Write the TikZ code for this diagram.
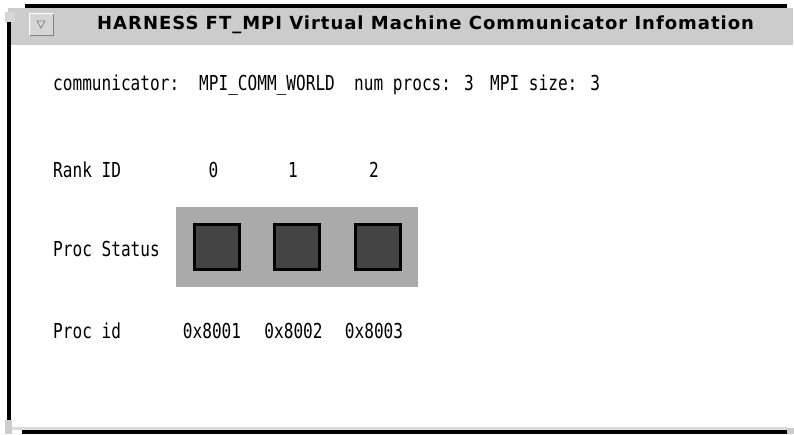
\documentclass[tikz,border=0pt]{standalone}
\usepackage{fontspec}
\usepackage{graphicx}
\newfontfamily\titlefont{DejaVu Sans}[LetterSpace=5.5]
\newfontfamily\monofont{DejaVu Sans Mono}
\newcommand{\tallt}[1]{\scalebox{1}[1.28]{#1}}
\definecolor{barGray}{RGB}{204,204,204}
\definecolor{panelGray}{RGB}{170,170,170}
\definecolor{boxFill}{RGB}{68,68,68}
\definecolor{btnFace}{RGB}{214,214,214}
\definecolor{btnDark}{RGB}{130,130,130}
\tikzset{
  lbl/.style={anchor=base west, inner sep=0pt, font=\monofont\fontsize{16.1}{18}\selectfont},
  num/.style={anchor=base, inner sep=0pt, font=\monofont\fontsize{16.1}{18}\selectfont},
  ttl/.style={anchor=base west, inner sep=0pt, font=\titlefont\bfseries\fontsize{18}{20}\selectfont},
  sq/.style={draw=black, line width=3pt, fill=boxFill, minimum size=45pt, inner sep=0pt},
  panel/.style={fill=panelGray, minimum width=242pt, minimum height=80pt, inner sep=0pt}
}
\begin{document}
\begin{tikzpicture}[x=1pt,y=-1pt]
\useasboundingbox (0,0) rectangle (794,434);
\fill[white] (0,0) rectangle (794,434);
% window frame
\fill[barGray] (8,8) rectangle (793,45);
\fill[barGray!80] (5,12) rectangle (15,22);
\fill[black] (25,4) rectangle (787,8);
\fill[barGray] (787,8) rectangle (792,12);
\fill[black] (7,22) rectangle (11,420);
\fill[barGray] (5,420) rectangle (12,434);
\fill[barGray!70] (12,427) rectangle (787,430);
\fill[black] (22,430) rectangle (787,434);
\fill[barGray] (787,428) rectangle (794,434);
% menu button
\fill[btnFace] (29,13) rectangle (54,36);
\draw[white, line width=1pt] (29.5,35.5) -- (29.5,13.5) -- (53.5,13.5);
\draw[btnDark, line width=1pt] (29.5,35.5) -- (53.5,35.5) -- (53.5,13.5);
\draw[btnDark, line width=0.8pt] (37,21) -- (45,21) -- (41,28) -- cycle;
% title
\node[ttl] (title) at (97,29.5) {HARNESS FT\_MPI Virtual Machine Communicator Infomation};
% communicator line
\node[lbl] (comm) at (53,90) {\tallt{communicator:}};
\node[lbl] (commval) at (199,90) {\tallt{MPI\_COMM\_WORLD}};
\node[lbl] (nprocs) at (354,90) {\tallt{num procs: 3}};
\node[lbl] (msize) at (490,90) {\tallt{MPI size: 3}};
% rank row
\node[lbl] (rank) at (53,177) {\tallt{Rank ID}};
\node[num] (r0) at (213.5,177) {\tallt{0}};
\node[num] (r1) at (293,177) {\tallt{1}};
\node[num] (r2) at (374,177) {\tallt{2}};
% status row
\node[lbl] (status) at (53,256) {\tallt{Proc Status}};
\node[panel] (pnl) at (297,247) {};
\node[sq] (s0) at (216.5,247) {};
\node[sq] (s1) at (297,247) {};
\node[sq] (s2) at (378,247) {};
% proc id row
\node[lbl] (pid) at (53,338) {\tallt{Proc id}};
\node[num] (p0) at (212,338) {\tallt{0x8001}};
\node[num] (p1) at (293.5,338) {\tallt{0x8002}};
\node[num] (p2) at (374,338) {\tallt{0x8003}};
\end{tikzpicture}
\end{document}
